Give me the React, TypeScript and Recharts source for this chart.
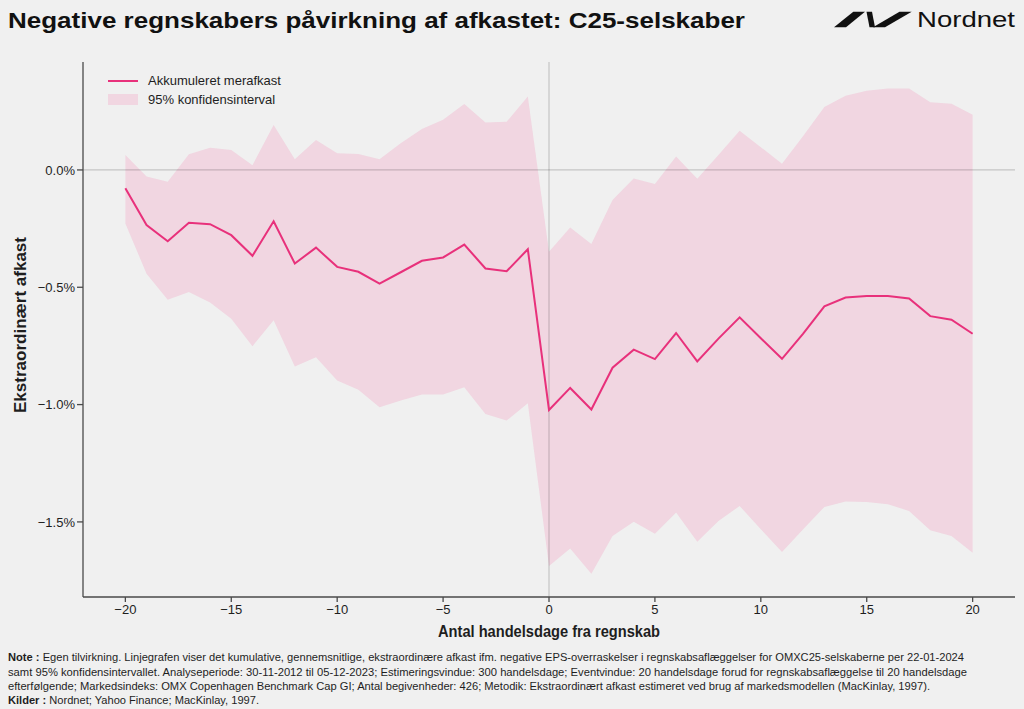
import React from 'react';
import {
  ComposedChart,
  Area,
  Line,
  XAxis,
  YAxis,
  ReferenceLine,
  Legend,
} from 'recharts';

// Event window: trading days relative to the earnings report
const days = [
  -20, -19, -18, -17, -16, -15, -14, -13, -12, -11, -10, -9, -8, -7, -6, -5, -4, -3, -2, -1,
  0, 1, 2, 3, 4, 5, 6, 7, 8, 9, 10, 11, 12, 13, 14, 15, 16, 17, 18, 19, 20,
];

// Cumulative abnormal return (%)
const cumulativeReturn = [
  -0.078, -0.235, -0.304, -0.225, -0.231, -0.278, -0.366, -0.219, -0.399, -0.331,
  -0.413, -0.434, -0.484, -0.436, -0.387, -0.373, -0.318, -0.42, -0.432, -0.338,
  -1.023, -0.929, -1.021, -0.843, -0.766, -0.806, -0.695, -0.816, -0.719, -0.628,
  -0.717, -0.805, -0.698, -0.581, -0.544, -0.537, -0.537, -0.548, -0.623, -0.638, -0.698,
];

// 95% confidence interval bounds (%)
const upperBound = [
  0.064, -0.028, -0.05, 0.067, 0.095, 0.085, 0.02, 0.192, 0.046, 0.128,
  0.071, 0.068, 0.046, 0.114, 0.175, 0.214, 0.281, 0.202, 0.205, 0.313,
  -0.349, -0.245, -0.316, -0.128, -0.037, -0.06, 0.057, -0.038, 0.064, 0.167,
  0.097, 0.026, 0.145, 0.268, 0.316, 0.338, 0.347, 0.347, 0.289, 0.282, 0.235,
];
const lowerBound = [
  -0.228, -0.442, -0.553, -0.52, -0.565, -0.634, -0.751, -0.641, -0.838, -0.798,
  -0.897, -0.937, -1.011, -0.983, -0.957, -0.957, -0.926, -1.04, -1.068, -0.994,
  -1.688, -1.613, -1.721, -1.56, -1.499, -1.55, -1.46, -1.585, -1.496, -1.432,
  -1.531, -1.628, -1.531, -1.436, -1.413, -1.415, -1.425, -1.453, -1.536, -1.56, -1.631,
];

const xTicks = [-20, -15, -10, -5, 0, 5, 10, 15, 20];
const yTicks = [-1.5, -1.0, -0.5, 0.0];

const seriesNames = {
  line: 'Akkumuleret merafkast',
  band: '95% konfidensinterval',
};

const titleText = 'Negative regnskabers påvirkning af afkastet: C25-selskaber';
const xAxisTitle = 'Antal handelsdage fra regnskab';
const yAxisTitle = 'Ekstraordinært afkast';

const noteLines = [
  'Egen tilvirkning. Linjegrafen viser det kumulative, gennemsnitlige, ekstraordinære afkast ifm. negative EPS-overraskelser i regnskabsaflæggelser for OMXC25-selskaberne per 22-01-2024',
  'samt 95% konfidensintervallet. Analyseperiode: 30-11-2012 til 05-12-2023; Estimeringsvindue: 300 handelsdage; Eventvindue: 20 handelsdage forud for regnskabsaflæggelse til 20 handelsdage',
  'efterfølgende; Markedsindeks: OMX Copenhagen Benchmark Cap GI; Antal begivenheder: 426; Metodik: Ekstraordinært afkast estimeret ved brug af markedsmodellen (MacKinlay, 1997).',
];
const sourceText = 'Nordnet; Yahoo Finance; MacKinlay, 1997.';

const data = days.map((d, i) => ({
  day: d,
  car: cumulativeReturn[i],
  band: [lowerBound[i], upperBound[i]],
}));

const PINK = '#e8317b';
const BAND = '#f56ea5';
const AXIS = '#4a4a4a';
const TEXT = '#1e1e1e';
const FONT = '"Liberation Sans", Arial, Helvetica, sans-serif';

const fmtY = (v: number) => `${v < 0 ? '−' : ''}${Math.abs(v).toFixed(1)}%`;
const fmtX = (v: number) => (v < 0 ? `−${Math.abs(v)}` : String(v));

const LegendBox = () => (
  <div style={{ fontFamily: FONT, fontSize: 13, color: TEXT, lineHeight: '19px' }}>
    <div style={{ display: 'flex', alignItems: 'center', height: 19 }}>
      <span style={{ display: 'inline-block', width: 30, height: 2, background: PINK, marginRight: 10 }} />
      <span>{seriesNames.line}</span>
    </div>
    <div style={{ display: 'flex', alignItems: 'center', height: 19 }}>
      <span
        style={{
          display: 'inline-block',
          width: 30,
          height: 11,
          background: 'rgba(245,110,165,0.2)',
          marginRight: 10,
        }}
      />
      <span>{seriesNames.band}</span>
    </div>
  </div>
);

export default function App() {
  return (
    <div
      style={{
        position: 'absolute',
        left: 0,
        top: 0,
        width: 1024,
        height: 709,
        background: '#f0f0f0',
        overflow: 'hidden',
      }}
    >
      <ComposedChart
        width={1024}
        height={709}
        data={data}
        margin={{ top: 62, right: 9, bottom: 82, left: 0 }}
        style={{ position: 'absolute', left: 0, top: 0 }}
      >
        <XAxis
          dataKey="day"
          type="number"
          domain={[-22, 22]}
          ticks={xTicks}
          tickFormatter={fmtX}
          height={30}
          tickSize={5}
          tickMargin={3}
          stroke={AXIS}
          strokeWidth={1.3}
          tick={{ fill: TEXT, fontSize: 13, fontFamily: FONT }}
        />
        <YAxis
          type="number"
          domain={[-1.82, 0.46]}
          allowDataOverflow
          ticks={yTicks}
          tickFormatter={fmtY}
          width={83}
          tickSize={6}
          tickMargin={2}
          stroke={AXIS}
          strokeWidth={1.3}
          tick={{ fill: TEXT, fontSize: 13, fontFamily: FONT }}
        />
        <Area
          type="linear"
          dataKey="band"
          name={seriesNames.band}
          stroke="none"
          fill={BAND}
          fillOpacity={0.2}
          isAnimationActive={false}
          activeDot={false}
        />
        <ReferenceLine y={0} stroke="#000" strokeOpacity={0.18} strokeWidth={1.2} />
        <ReferenceLine x={0} stroke="#000" strokeOpacity={0.18} strokeWidth={1.2} />
        <Line
          type="linear"
          dataKey="car"
          name={seriesNames.line}
          stroke={PINK}
          strokeWidth={2}
          dot={false}
          activeDot={false}
          isAnimationActive={false}
        />
        <Legend
          layout="horizontal"
          verticalAlign="middle"
          align="center"
          wrapperStyle={{ top: 71, left: 108, width: 'auto', height: 'auto' }}
          content={() => <LegendBox />}
        />
      </ComposedChart>

      <svg
        width={1024}
        height={709}
        style={{ position: 'absolute', left: 0, top: 0, pointerEvents: 'none' }}
      >
        {/* Title */}
        <text
          x={8}
          y={27.5}
          fontFamily={FONT}
          fontWeight={700}
          fontSize={22}
          fill="#111"
          textLength={737}
          lengthAdjust="spacingAndGlyphs"
        >
          {titleText}
        </text>

        {/* Brand mark */}
        <g fill="#111">
          <polygon points="834,27.3 846,27.3 865,11.7 853.3,11.7" />
          <polygon points="866.5,11.7 872,11.7 875,27.3 869.5,27.3" />
          <polygon points="873,27.3 885,27.3 911.7,11.7 899.5,11.7" />
        </g>
        <text
          x={917}
          y={27.3}
          fontFamily={FONT}
          fontSize={22}
          fill="#111"
          textLength={98}
          lengthAdjust="spacingAndGlyphs"
        >
          Nordnet
        </text>

        {/* Axis titles */}
        <text
          x={549}
          y={636.5}
          textAnchor="middle"
          fontFamily={FONT}
          fontWeight={700}
          fontSize={16}
          fill={TEXT}
          textLength={222}
          lengthAdjust="spacingAndGlyphs"
        >
          {xAxisTitle}
        </text>
        <text
          transform="translate(26,325) rotate(-90)"
          textAnchor="middle"
          fontFamily={FONT}
          fontWeight={700}
          fontSize={16}
          fill={TEXT}
          textLength={176}
          lengthAdjust="spacingAndGlyphs"
        >
          {yAxisTitle}
        </text>

        {/* Notes and sources */}
        <g fontFamily={FONT} fontSize={11} fill={TEXT}>
          <text x={8} y={661} textLength={956} lengthAdjust="spacingAndGlyphs">
            <tspan fontWeight={700}>Note : </tspan>
            {noteLines[0]}
          </text>
          <text x={8} y={675.5} textLength={959} lengthAdjust="spacingAndGlyphs">
            {noteLines[1]}
          </text>
          <text x={8} y={690} textLength={922} lengthAdjust="spacingAndGlyphs">
            {noteLines[2]}
          </text>
          <text x={8} y={704} textLength={251} lengthAdjust="spacingAndGlyphs">
            <tspan fontWeight={700}>Kilder : </tspan>
            {sourceText}
          </text>
        </g>
      </svg>
    </div>
  );
}
